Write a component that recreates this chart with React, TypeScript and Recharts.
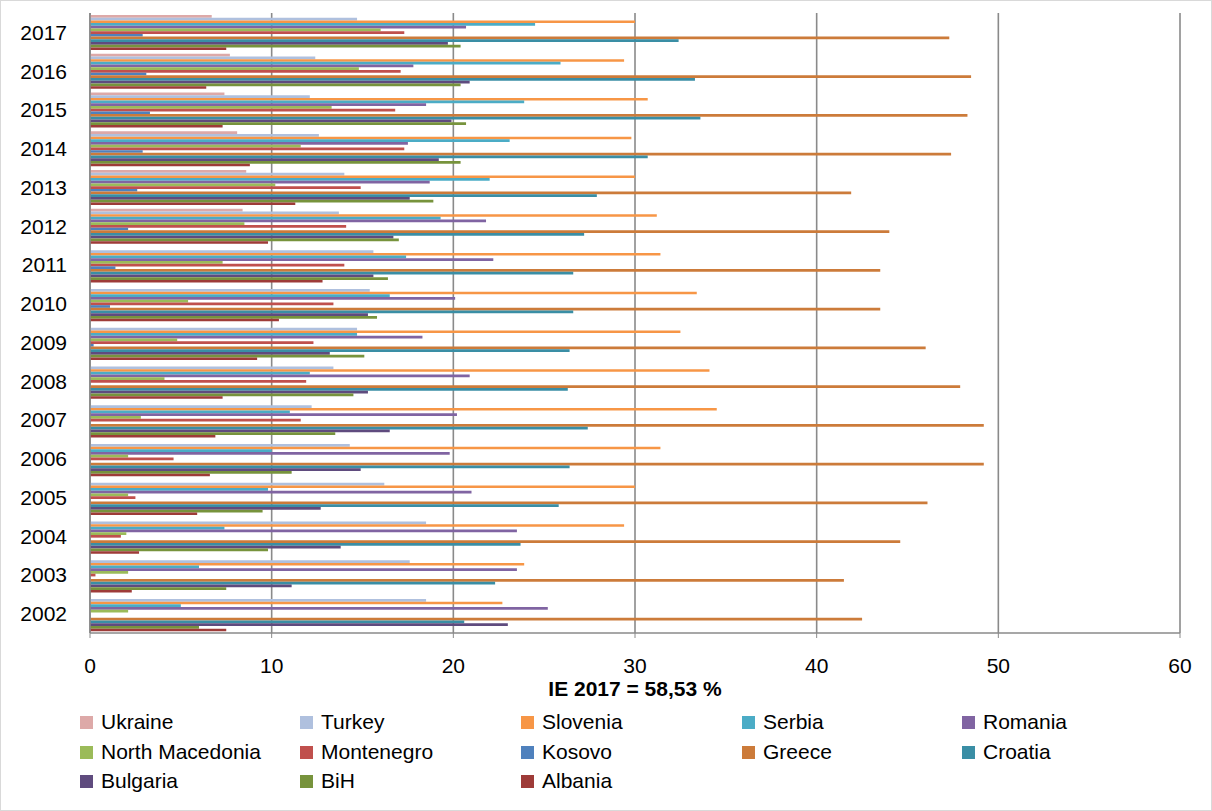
import { Bar, BarChart, CartesianGrid, Label, XAxis, YAxis } from "recharts";

const years = [2002, 2003, 2004, 2005, 2006, 2007, 2008, 2009, 2010, 2011, 2012, 2013, 2014, 2015, 2016, 2017];

const ukraine = [null, null, null, null, null, null, null, null, null, null, 8.4, 8.6, 8.1, 7.4, 7.7, 6.7];
const turkey = [18.5, 17.6, 18.5, 16.2, 14.3, 12.2, 13.4, 14.7, 15.4, 15.6, 13.7, 14.0, 12.6, 12.1, 12.4, 14.7];
const slovenia = [22.7, 23.9, 29.4, 30.0, 31.4, 34.5, 34.1, 32.5, 33.4, 31.4, 31.2, 30.0, 29.8, 30.7, 29.4, 30.0];
const serbia = [5.0, 6.0, 7.4, 9.8, 10.0, 11.0, 12.1, 14.7, 16.5, 17.4, 19.3, 22.0, 23.1, 23.9, 25.9, 24.5];
const romania = [25.2, 23.5, 23.5, 21.0, 19.8, 20.2, 20.9, 18.3, 20.1, 22.2, 21.8, 18.7, 17.5, 18.5, 17.8, 20.7];
const northMacedonia = [2.1, 2.1, 2.0, 2.1, 2.1, 2.8, 4.1, 4.8, 5.4, 7.3, 8.5, 10.2, 11.6, 13.3, 14.8, 16.0];
const montenegro = [null, 0.3, 1.7, 2.5, 4.6, 11.6, 11.9, 12.3, 13.4, 14.0, 14.1, 14.9, 17.3, 16.8, 17.1, 17.3];
const kosovo = [null, null, null, null, null, null, null, 0.2, 1.1, 1.4, 2.1, 2.6, 2.9, 3.3, 3.1, 2.9];
const greece = [42.5, 41.5, 44.6, 46.1, 49.2, 49.2, 47.9, 46.0, 43.5, 43.5, 44.0, 41.9, 47.4, 48.3, 48.5, 47.3];
const croatia = [20.6, 22.3, 23.7, 25.8, 26.4, 27.4, 26.3, 26.4, 26.6, 26.6, 27.2, 27.9, 30.7, 33.6, 33.3, 32.4];
const bulgaria = [23.0, 11.1, 13.8, 12.7, 14.9, 16.5, 15.3, 13.2, 15.3, 15.6, 16.7, 17.6, 19.2, 19.9, 20.9, 19.7];
const bih = [6.0, 7.5, 9.8, 9.5, 11.1, 13.5, 14.5, 15.1, 15.8, 16.4, 17.0, 18.9, 20.4, 20.7, 20.4, 20.4];
const albania = [7.5, 2.3, 2.7, 5.9, 6.6, 6.9, 7.3, 9.2, 10.4, 12.8, 9.8, 11.3, 8.8, 7.3, 6.4, 7.5];

const xTicks = [0, 10, 20, 30, 40, 50, 60];
// boundaries between year groups, for the small category tick marks
const groupEdges = [0, 1, 2, 3, 4, 5, 6, 7, 8, 9, 10, 11, 12, 13, 14, 15, 16];

const series = [
  { key: "Ukraine", values: ukraine, color: "#DDA9A8" },
  { key: "Turkey", values: turkey, color: "#AFC0DE" },
  { key: "Slovenia", values: slovenia, color: "#F79646" },
  { key: "Serbia", values: serbia, color: "#4BACC6" },
  { key: "Romania", values: romania, color: "#8064A2" },
  { key: "North Macedonia", values: northMacedonia, color: "#9BBB59" },
  { key: "Montenegro", values: montenegro, color: "#C0504D" },
  { key: "Kosovo", values: kosovo, color: "#4F81BD" },
  { key: "Greece", values: greece, color: "#CC7B3A" },
  { key: "Croatia", values: croatia, color: "#3A8EA5" },
  { key: "Bulgaria", values: bulgaria, color: "#5F4B7E" },
  { key: "BiH", values: bih, color: "#77933C" },
  { key: "Albania", values: albania, color: "#9E3B38" },
];

const data = years.map((year, i) => {
  const row: Record<string, number | string | null> = { year: String(year) };
  series.forEach((s) => {
    row[s.key] = s.values[i];
  });
  return row;
});

const FONT = "'Liberation Sans', Arial, sans-serif";
const AXIS = "#8a8a8a";

// legend grid: 5 columns x 3 rows
const legendCols = [80, 300, 521, 742, 962];
const legendRows = [722, 752, 781];

export default function App() {
  return (
    <div style={{ position: "absolute", left: 0, top: 0, width: 1212, height: 811, background: "#fff", fontFamily: FONT }}>
      <BarChart
        width={1212}
        height={811}
        data={data}
        layout="vertical"
        margin={{ top: 13, right: 32, left: 0, bottom: 148 }}
        barSize={2.7}
        barGap={0}
      >
        <CartesianGrid horizontal={false} vertical stroke={AXIS} strokeWidth={1.6} yAxisId="cat" />
        <XAxis
          type="number"
          domain={[0, 60]}
          ticks={xTicks}
          height={30}
          axisLine={{ stroke: AXIS, strokeWidth: 1.6 }}
          tickLine={{ stroke: AXIS }}
          tickSize={5}
          tickMargin={20}
          tick={{ fill: "#000", fontSize: 21, fontFamily: FONT }}
        >
          <Label
            value="IE 2017 = 58,53 %"
            position="bottom"
            offset={18}
            style={{ fontWeight: "bold", fontSize: 21, fill: "#000", fontFamily: FONT }}
          />
        </XAxis>
        <YAxis
          yAxisId="edges"
          type="number"
          domain={[0, 16]}
          ticks={groupEdges}
          width={0}
          axisLine={false}
          tickLine={{ stroke: AXIS, strokeWidth: 1.4 }}
          tickSize={6}
          tick={() => <g />}
        />
        <YAxis
          yAxisId="cat"
          type="category"
          dataKey="year"
          reversed
          width={90}
          axisLine={{ stroke: AXIS, strokeWidth: 1.6 }}
          tickLine={false}
          tickMargin={17}
          tick={{ fill: "#000", fontSize: 21, fontFamily: FONT }}
        />
        {series.map((s) => (
          <Bar key={s.key} yAxisId="cat" dataKey={s.key} fill={s.color} isAnimationActive={false} />
        ))}
      </BarChart>
      {series.map((s, i) => (
        <div
          key={s.key}
          style={{
            position: "absolute",
            left: legendCols[i % 5],
            top: legendRows[Math.floor(i / 5)] - 12,
            height: 24,
            display: "flex",
            alignItems: "center",
            fontSize: 21,
            color: "#000",
            whiteSpace: "nowrap",
          }}
        >
          <span style={{ width: 13, height: 13, background: s.color, marginRight: 8, display: "inline-block" }} />
          {s.key}
        </div>
      ))}
      <div
        style={{
          position: "absolute",
          left: 0,
          top: 0,
          width: 1212,
          height: 811,
          boxSizing: "border-box",
          border: "1px solid #d9d9d9",
          pointerEvents: "none",
        }}
      />
    </div>
  );
}
